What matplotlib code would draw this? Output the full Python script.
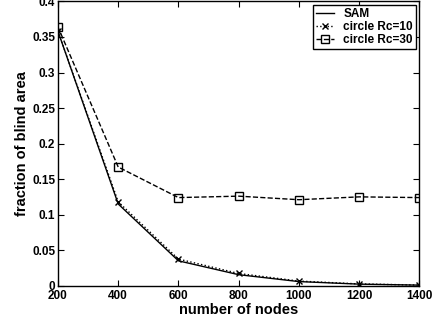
import matplotlib
matplotlib.use("Agg")
import matplotlib.pyplot as plt

nodes = [200, 400, 600, 800, 1000, 1200, 1400]
sam = [0.358, 0.115, 0.035, 0.0155, 0.0058, 0.0022, 0.0008]
circle_rc10 = [0.358, 0.118, 0.0375, 0.0172, 0.0065, 0.0025, 0.0009]
circle_rc30 = [0.364, 0.167, 0.124, 0.126, 0.121, 0.125, 0.124]

xticks = [200, 400, 600, 800, 1000, 1200, 1400]
yticks = [0, 0.05, 0.1, 0.15, 0.2, 0.25, 0.3, 0.35, 0.4]
ytick_labels = ["0", "0.05", "0.1", "0.15", "0.2", "0.25", "0.3", "0.35", "0.4"]

plt.rcParams['font.family'] = ['Liberation Sans', 'DejaVu Sans']
plt.rcParams['font.weight'] = 'bold'

fig = plt.figure(figsize=(4.45, 3.23), dpi=100)
ax = fig.add_axes([0.1303, 0.1155, 0.812, 0.880])

ax.plot(nodes, sam, '-', color='black', lw=1.0, label='SAM')
ax.plot(nodes, circle_rc10, ':', color='black', lw=1.0, marker='x', ms=5,
        mew=1.0, label='circle Rc=10')
ax.plot(nodes, circle_rc30, '--', color='black', lw=1.0, marker='s', ms=6,
        mfc='none', mew=1.0, label='circle Rc=30')

ax.set_xlim(200, 1400)
ax.set_ylim(0, 0.4)
ax.set_xticks(xticks)
ax.set_xticklabels([str(t) for t in xticks])
ax.set_yticks(yticks)
ax.set_yticklabels(ytick_labels)
ax.tick_params(direction='in', top=True, right=True, labelsize=8.5, length=4, width=0.8, pad=2)
ax.tick_params(axis='x', pad=3)
for lab in ax.get_xticklabels() + ax.get_yticklabels():
    lab.set_fontweight('bold')
for s in ax.spines.values():
    s.set_linewidth(1.0)

ax.set_xlabel('number of nodes', fontsize=10.5, fontweight='bold', labelpad=1)
ax.set_ylabel('fraction of blind area', fontsize=10.5, fontweight='bold', labelpad=2)

leg = ax.legend(loc='upper right', fontsize=8.5, frameon=True, fancybox=False,
                edgecolor='black', framealpha=1, handlelength=1.5,
                borderaxespad=0.3, borderpad=0.25, labelspacing=0.08, handletextpad=0.8)
leg.get_frame().set_linewidth(1.0)
for t in leg.get_texts():
    t.set_fontweight('bold')

fig.savefig('out.png', dpi=100)
